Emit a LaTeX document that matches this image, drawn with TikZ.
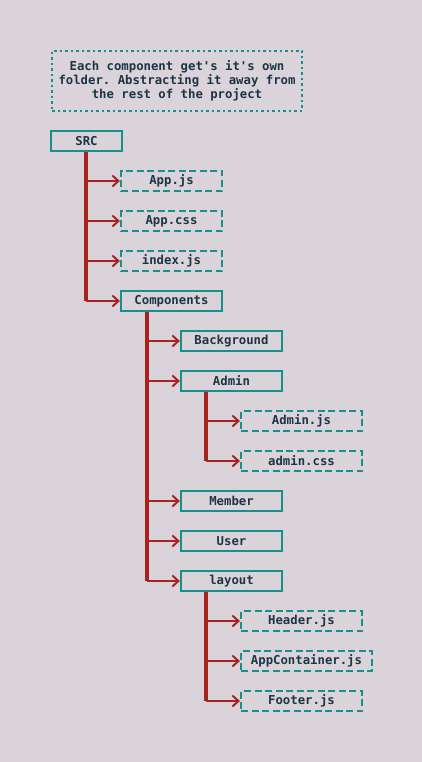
\documentclass[tikz,border=0pt]{standalone}
\usepackage{fontspec}
\setmonofont{DejaVu Sans Mono}
\usetikzlibrary{arrows.meta}
\definecolor{bgcol}{HTML}{DBD3DA}
\definecolor{tealcol}{HTML}{16908C}
\definecolor{redcol}{HTML}{A8221F}
\definecolor{inkcol}{HTML}{1C3545}
\begin{document}
\begin{tikzpicture}[x=1pt,y=-1pt,
  every node/.style={font=\ttfamily\bfseries\fontsize{12.3}{14}\selectfont, text=inkcol},
  folder/.style={draw=tealcol, line width=2.2pt, minimum height=20pt, inner sep=0pt},
  filebox/.style={folder, dash pattern=on 7pt off 3.5pt},
  notebox/.style={draw=tealcol, line width=2.2pt, dash pattern=on 2.5pt off 3pt,
    align=center, minimum width=250pt, minimum height=60pt, inner sep=0pt},
  trunk/.style={draw=redcol, line width=3.4pt},
  branch/.style={draw=redcol, line width=2.4pt, -{Straight Barb[length=6pt,width=11pt,line width=2pt]}}
]
\fill[bgcol] (0,0) rectangle (422,762);
\useasboundingbox (0,0) rectangle (422,762);

\node[notebox] (note) at (177,81) {Each component get's it's own\\folder. Abstracting it away from\\the rest of the project};

\node[folder, minimum width=71pt] (src) at (86.5,141) {SRC};
\node[filebox, minimum width=101pt] (appjs) at (171.5,181) {App.js};
\node[filebox, minimum width=101pt] (appcss) at (171.5,221) {App.css};
\node[filebox, minimum width=101pt] (indexjs) at (171.5,261) {index.js};
\node[folder, minimum width=101pt] (comps) at (171.5,301) {Components};

\node[folder, minimum width=101pt] (bg) at (231.5,341) {Background};
\node[folder, minimum width=101pt] (admin) at (231.5,381) {Admin};
\node[filebox, minimum width=121pt] (adminjs) at (301.5,421) {Admin.js};
\node[filebox, minimum width=121pt] (admincss) at (301.5,461) {admin.css};
\node[folder, minimum width=101pt] (member) at (231.5,501) {Member};
\node[folder, minimum width=101pt] (user) at (231.5,541) {User};
\node[folder, minimum width=101pt] (layout) at (231.5,581) {layout};
\node[filebox, minimum width=121pt] (header) at (301.5,621) {Header.js};
\node[filebox, minimum width=131pt] (appcont) at (306.5,661) {AppContainer.js};
\node[filebox, minimum width=121pt] (footer) at (301.5,701) {Footer.js};

% SRC tree
\coordinate (srcT) at ([xshift=-0.5pt]src.south);
\draw[trunk] (srcT) -- (srcT |- comps.west);
\foreach \n in {appjs,appcss,indexjs,comps}
  \draw[branch] (srcT |- \n.west) -- (\n.west);

% Components tree
\coordinate (compT) at ([xshift=-24.5pt]comps.south);
\draw[trunk] (compT) -- (compT |- layout.west);
\foreach \n in {bg,admin,member,user,layout}
  \draw[branch] (compT |- \n.west) -- (\n.west);

% Admin tree
\coordinate (adminT) at ([xshift=-25.5pt]admin.south);
\draw[trunk] (adminT) -- (adminT |- admincss.west);
\foreach \n in {adminjs,admincss}
  \draw[branch] (adminT |- \n.west) -- (\n.west);

% layout tree
\coordinate (layT) at ([xshift=-25.5pt]layout.south);
\draw[trunk] (layT) -- (layT |- footer.west);
\foreach \n in {header,appcont,footer}
  \draw[branch] (layT |- \n.west) -- (\n.west);
\end{tikzpicture}
\end{document}
